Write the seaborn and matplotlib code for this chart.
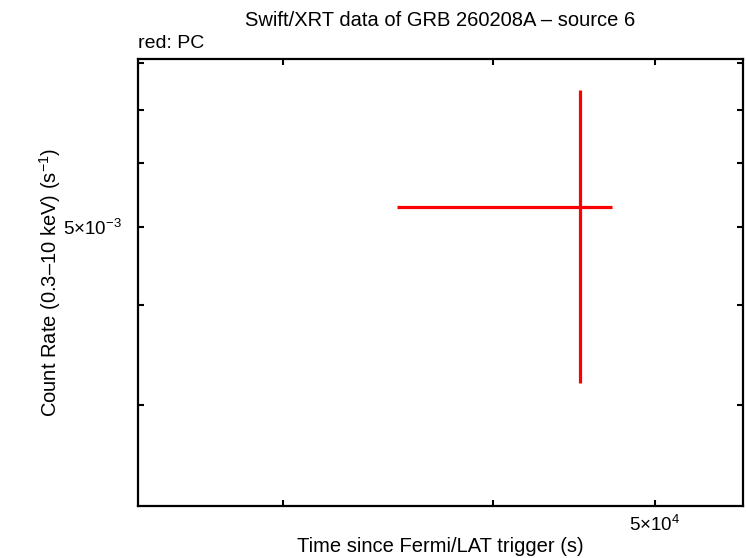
import numpy as np
import matplotlib
matplotlib.use("Agg")
import matplotlib.pyplot as plt
import matplotlib.ticker as mticker
import seaborn as sns

# data (PC mode, single bin)
time = [45080.0]
time_lo = [35080.0]
time_hi = [47130.0]
rate = [5.29e-3]
rate_lo = [3.20e-3]
rate_hi = [7.41e-3]

sns.set_style("ticks")
plt.rcParams['font.family'] = ['Liberation Sans', 'DejaVu Sans']
plt.rcParams['mathtext.fontset'] = 'custom'
plt.rcParams['mathtext.rm'] = 'Liberation Sans'
plt.rcParams['mathtext.it'] = 'Liberation Sans:italic'
plt.rcParams['text.color'] = 'black'
plt.rcParams['axes.labelcolor'] = 'black'

fig = plt.figure(figsize=(7.46, 5.58), dpi=100)
ax = fig.add_axes([0.185, 0.093, 0.811, 0.801])

t = np.array(time)
r = np.array(rate)
xerr = [t - np.array(time_lo), np.array(time_hi) - t]
yerr = [r - np.array(rate_lo), np.array(rate_hi) - r]
ax.errorbar(t, r, xerr=xerr, yerr=yerr, fmt='none', ecolor='red',
            elinewidth=2.3, capsize=0)

ax.set_xscale('log')
ax.set_yscale('log')
ax.set_xlim(24580, 56430)
ax.set_ylim(2.247e-3, 8.09e-3)

ax.xaxis.set_major_locator(mticker.FixedLocator([5e4]))
ax.xaxis.set_major_formatter(mticker.FixedFormatter([r'$5{\times}10^{4}$']))
ax.xaxis.set_minor_locator(mticker.LogLocator(base=10, subs=np.arange(2, 10)))
ax.xaxis.set_minor_formatter(mticker.NullFormatter())
ax.yaxis.set_major_locator(mticker.FixedLocator([5e-3]))
ax.yaxis.set_major_formatter(mticker.FixedFormatter([r'$5{\times}10^{-3}$']))
ax.yaxis.set_minor_locator(mticker.LogLocator(base=10, subs=np.arange(2, 10)))
ax.yaxis.set_minor_formatter(mticker.NullFormatter())

for s in ax.spines.values():
    s.set_linewidth(1.6)
    s.set_color('black')
ax.tick_params(which='both', direction='in', top=True, right=True,
               length=4, width=1.5, colors='black', labelsize=13.5)
ax.tick_params(axis='y', pad=12)
ax.tick_params(axis='x', pad=6)

ax.set_xlabel('Time since Fermi/LAT trigger (s)', fontsize=14.5, labelpad=2)
ax.set_ylabel('Count Rate (0.3\u201310 keV) (s$^{-1}$)', fontsize=14.5, labelpad=0)
ax.set_title('Swift/XRT data of GRB 260208A \u2013 source 6', fontsize=14.5, pad=24)
ax.text(0.0, 1.015, 'red: PC', transform=ax.transAxes, fontsize=14,
        ha='left', va='bottom')

fig.savefig('out.png', dpi=100)
